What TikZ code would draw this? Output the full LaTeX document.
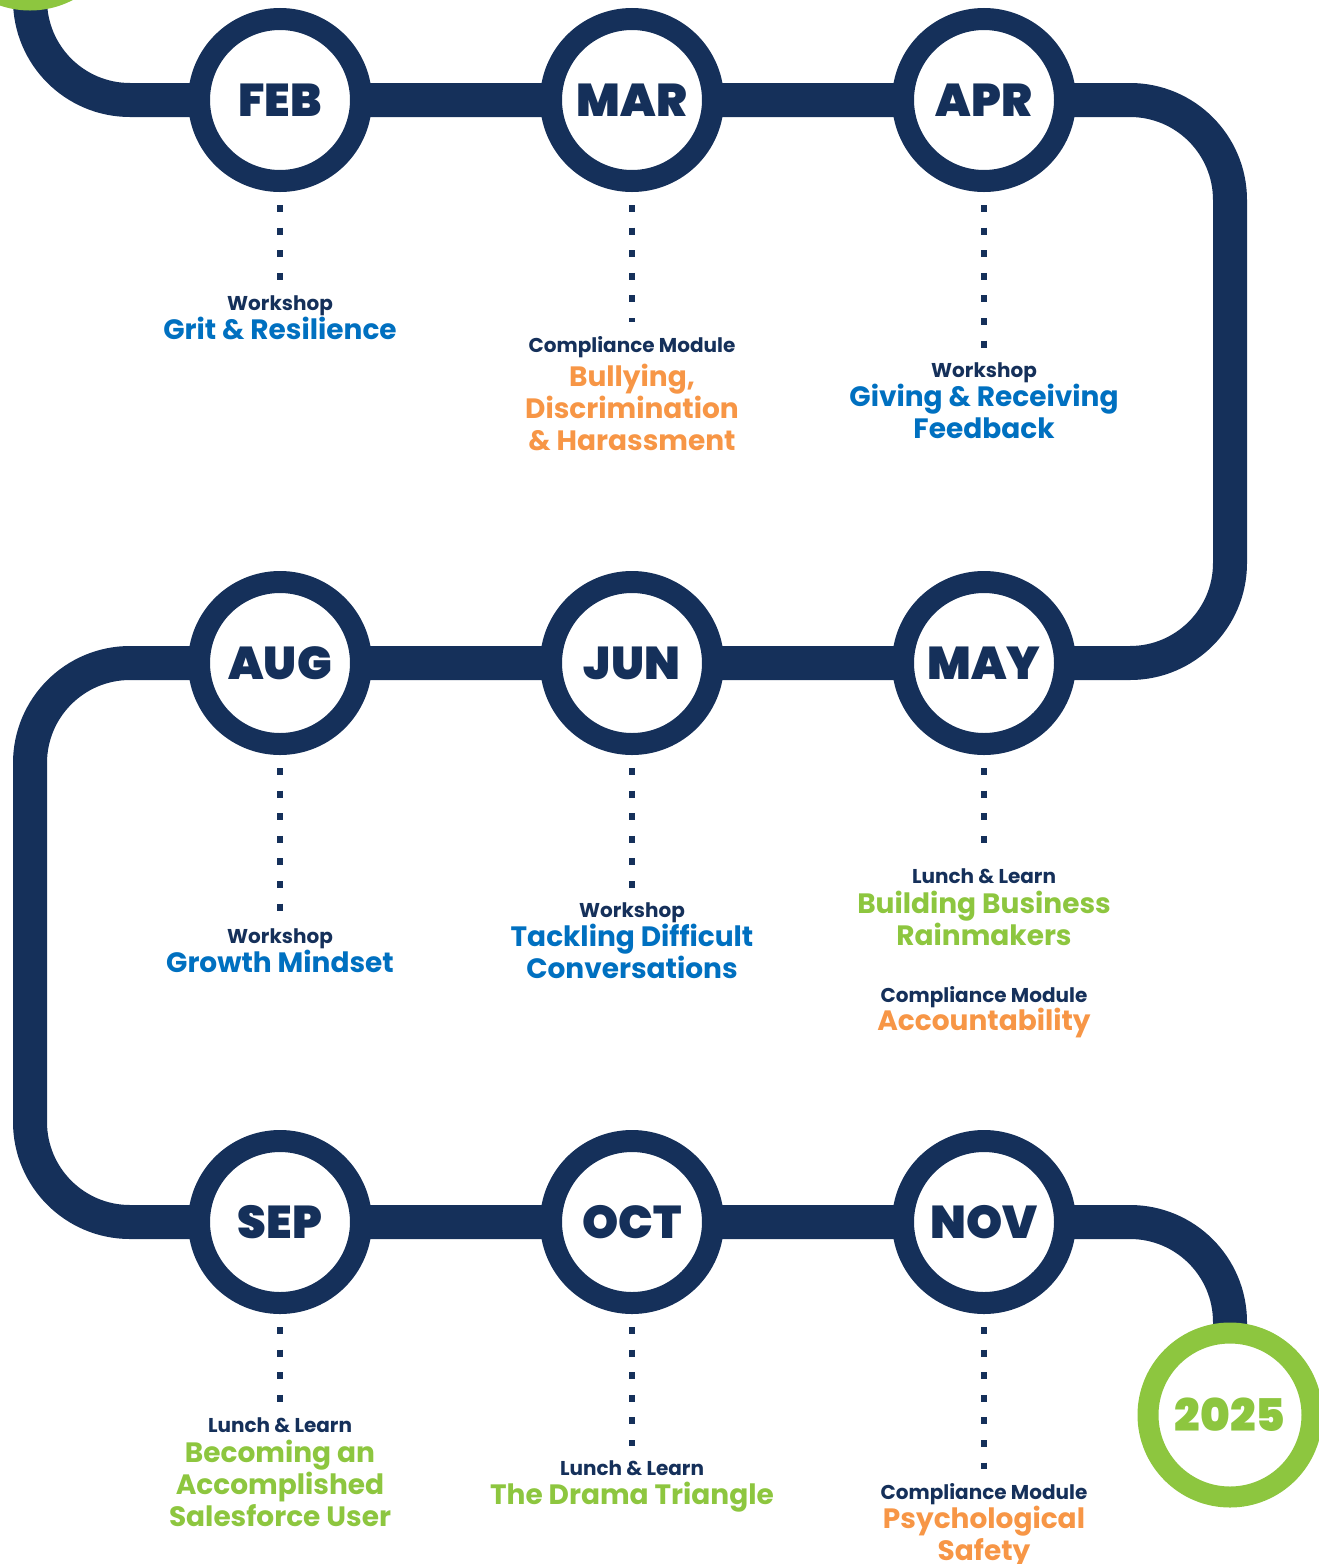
\documentclass[tikz,border=0pt]{standalone}
\usepackage{fontspec}
\usetikzlibrary{backgrounds}
\setmainfont{Poppins}
\IfFontExistsTF{Poppins Black}
  {\newfontfamily\heavyfont{Poppins Black}\def\monthfont{\heavyfont}}
  {\IfFontExistsTF{Poppins ExtraBold}
    {\newfontfamily\heavyfont{Poppins ExtraBold}\def\monthfont{\heavyfont}}
    {\def\monthfont{\bfseries}}}

\definecolor{navy}{HTML}{15305A}
\definecolor{tblue}{HTML}{0070C0}
\definecolor{torange}{HTML}{F79646}
\definecolor{tgreen}{HTML}{8DC63F}

\tikzset{
  road/.style={draw=navy,line width=34pt},
  month/.style={circle,draw=navy,line width=22pt,fill=white,minimum size=162pt,
    inner sep=0pt,text=navy,font=\monthfont\fontsize{46}{46}\selectfont},
  ring/.style={circle,draw=tgreen,line width=21pt,fill=white,minimum size=164pt,
    inner sep=0pt,text=tgreen,font=\monthfont\fontsize{45}{45}\selectfont},
  dotline/.style={draw=navy,line width=6.5pt,dash pattern=on 7pt off 15.6pt},
  kind/.style={text=navy,font=\bfseries\fontsize{20}{22}\selectfont,inner sep=0pt,anchor=base},
  topic/.style={font=\bfseries\fontsize{28}{32}\selectfont,align=center,inner sep=0pt,anchor=north}
}

\begin{document}
\begin{tikzpicture}[x=1pt,y=-1pt]

        \useasboundingbox (0,0) rectangle (1318,1564);

        % start and end of the year
        \node[ring] (go)   at (30,-82)   {};
        \node[ring] (year) at (1230,1415) {2025};

        \coordinate (rt) at (1230,380);
        \coordinate (lf) at (30,940);

        \begin{scope}[every node/.style={month}]
          \node (feb) at (280,100)  {FEB};
          \node (mar) at (632,100)  {MAR};
          \node (apr) at (984,100)  {APR};
          \node (aug) at (280,663)  {AUG};
          \node (jun) at (632,663)  {JUN};
          \node (may) at (984,663)  {MAY};
          \node (sep) at (280,1222) {SEP};
          \node (oct) at (632,1222) {OCT};
          \node (nov) at (984,1222) {NOV};
        \end{scope}

        % the road, under the circles
        \begin{scope}[on background layer]
          \draw[road,rounded corners=100pt] (go.center) |- (feb.center) -- (mar.center) -- (apr.center)
            -| (rt) |- (may.center) -- (jun.center) -- (aug.center)
            -| (lf) |- (sep.center) -- (oct.center) -- (nov.center) -| (year.center);
        \end{scope}

        % labels
        \node[kind] (febk) at (280,310) {Workshop};
        \node[topic,text=tblue] (febt) at (280,317) {Grit \& Resilience};

        \node[kind] (mark) at (632,352) {Compliance Module};
        \node[topic,text=torange] (mart) at (632,364) {Bullying,\\Discrimination\\\& Harassment};

        \node[kind] (aprk) at (984,377) {Workshop};
        \node[topic,text=tblue] (aprt) at (984,384) {Giving \& Receiving\\Feedback};

        \node[kind] (augk) at (280,943) {Workshop};
        \node[topic,text=tblue] (augt) at (280,950) {Growth Mindset};

        \node[kind] (junk) at (632,917) {Workshop};
        \node[topic,text=tblue] (junt) at (632,924) {Tackling Difficult\\Conversations};

        \node[kind] (mayk) at (984,883) {Lunch \& Learn};
        \node[topic,text=tgreen] (mayt) at (984,891) {Building Business\\Rainmakers};
        \node[kind] (mayk2) at (984,1002) {Compliance Module};
        \node[topic,text=torange] (mayt2) at (984,1008) {Accountability};

        \node[kind] (sepk) at (280,1432) {Lunch \& Learn};
        \node[topic,text=tgreen] (sept) at (280,1440) {Becoming an\\Accomplished\\Salesforce User};

        \node[kind] (octk) at (632,1475) {Lunch \& Learn};
        \node[topic,text=tgreen] (octt) at (632,1482) {The Drama Triangle};

        \node[kind] (novk) at (984,1499) {Compliance Module};
        \node[topic,text=torange] (novt) at (984,1506) {Psychological\\Safety};

        % dotted links from month to its event
        \draw[dotline] ([yshift=-13pt]feb.south) -- ([yshift=14pt]febk.north);
        \draw[dotline] ([yshift=-13pt]mar.south) -- ([yshift=14pt]mark.north);
        \draw[dotline] ([yshift=-13pt]apr.south) -- ([yshift=14pt]aprk.north);
        \draw[dotline] ([yshift=-13pt]aug.south) -- ([yshift=14pt]augk.north);
        \draw[dotline] ([yshift=-13pt]jun.south) -- ([yshift=14pt]junk.north);
        \draw[dotline] ([yshift=-13pt]may.south) -- ([yshift=25pt]mayk.north);
        \draw[dotline] ([yshift=-13pt]sep.south) -- ([yshift=14pt]sepk.north);
        \draw[dotline] ([yshift=-13pt]oct.south) -- ([yshift=14pt]octk.north);
        \draw[dotline] ([yshift=-13pt]nov.south) -- ([yshift=14pt]novk.north);

      \end{tikzpicture}
\end{document}
